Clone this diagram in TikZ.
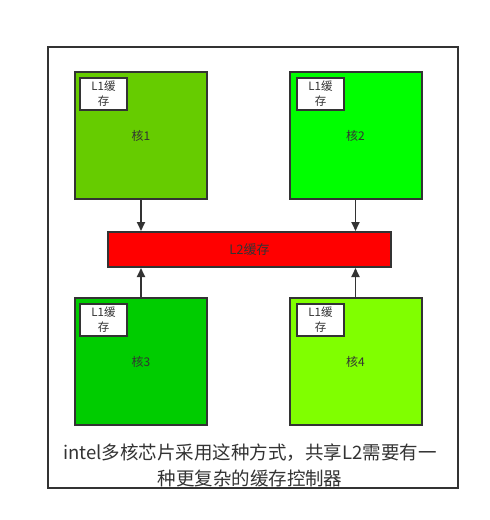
\documentclass[tikz,border=0pt]{standalone}
\usepackage{fontspec}
\setmainfont{Noto Sans CJK SC}
\usetikzlibrary{arrows.meta}
\definecolor{edge}{HTML}{333333}
\definecolor{coreA}{HTML}{66CC00}
\definecolor{coreB}{HTML}{00FF00}
\definecolor{coreC}{HTML}{00CC00}
\definecolor{coreD}{HTML}{80FF00}
\tikzset{
  core/.style={draw=edge,line width=2pt,minimum width=132pt,minimum height=127pt,
    text=edge,font=\fontsize{12}{14}\selectfont},
  lonebox/.style={draw=edge,fill=white,line width=1.5pt,minimum width=47pt,minimum height=32pt,
    inner sep=0pt,align=center,text=edge,font=\fontsize{11.5}{15}\selectfont},
  bus/.style={draw=edge,fill=red,line width=2pt,minimum width=283pt,minimum height=35pt,
    text=edge,font=\fontsize{13}{15}\selectfont},
  link/.style={draw=edge,line width=1.8pt,-{Triangle[length=9pt,width=8pt]}}
}
\begin{document}
\begin{tikzpicture}[x=1pt,y=-1pt]
  \useasboundingbox (0,0) rectangle (490,520);
  \draw[edge,line width=2pt] (48,47) rectangle (458,488);
  \draw
    (141,135.5) node[core,fill=coreA] (c1){核1}
    (355.5,135.5) node[core,fill=coreB] (c2){核2}
    (141,361.5) node[core,fill=coreC] (c3){核3}
    (355.5,361.5) node[core,fill=coreD] (c4){核4}
    (249.5,249.5) node[bus] (l2){L2缓存};
  \draw
    (103.5,94) node[lonebox] (m1){L1缓\\存}
    (320.5,94) node[lonebox] (m2){L1缓\\存}
    (103.5,320) node[lonebox] (m3){L1缓\\存}
    (320.5,320) node[lonebox] (m4){L1缓\\存};
  \node[align=center,text=edge,font=\fontsize{18.5}{26}\selectfont] (note) at (250,465)
    {intel多核芯片采用这种方式，共享L2需要有一\\种更复杂的缓存控制器};
  \begin{scope}[link]
    \draw (c1.south) to (c1.south |- l2.north);
    \draw (c2.south) to (c2.south |- l2.north);
    \draw (c3.north) to (c3.north |- l2.south);
    \draw (c4.north) to (c4.north |- l2.south);
  \end{scope}
\end{tikzpicture}
\end{document}
